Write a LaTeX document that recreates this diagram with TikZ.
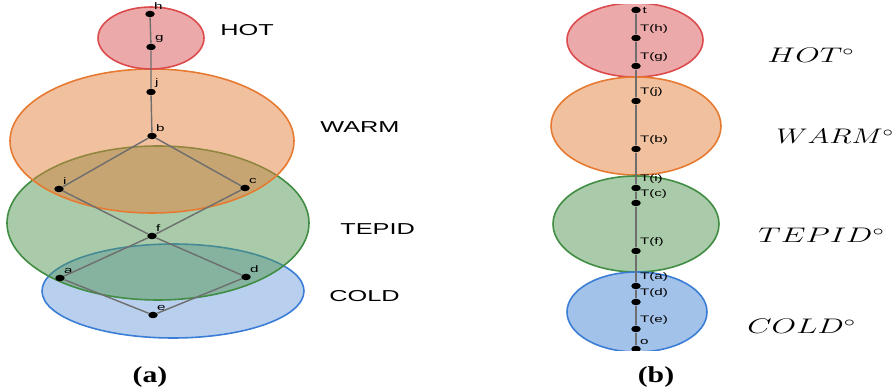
\documentclass[tikz,border=0pt]{standalone}
\usepackage{fontspec}
\setmainfont{Liberation Serif}
\newfontfamily\widesans[FakeStretch=1.6]{Liberation Sans}
\newfontfamily\wideserif[FakeStretch=1.3]{Liberation Serif}
\usepackage{graphicx}
\usepackage{tikz}
\usetikzlibrary{shapes.geometric}
\definecolor{hotFill}{HTML}{D75355}
\definecolor{hotLine}{HTML}{DC4A4C}
\definecolor{warmFill}{HTML}{E3813D}
\definecolor{warmLine}{HTML}{E67A30}
\definecolor{tepidFill}{HTML}{539753}
\definecolor{tepidLine}{HTML}{3F8C42}
\definecolor{coldFill}{HTML}{71A1DD}
\definecolor{coldLine}{HTML}{3A7DD6}
\definecolor{edgeGray}{HTML}{6E6E6E}

\begin{document}
\begin{tikzpicture}[
  x=0.02cm, y=-0.02cm,
  zone/.style={line width=0.9pt, fill opacity=0.5},
  dot/.style={ellipse, fill=black, inner sep=0pt, minimum width=0.19cm, minimum height=0.13cm},
  tag/.style={font=\widesans\fontsize{5.4}{6}\selectfont, inner sep=0pt, label distance=0.6pt},
  vtx/.style={dot, label={[tag]above right:#1}},
  edge/.style={draw=edgeGray, line width=0.8pt},
  classname/.style={font=\widesans\fontsize{9}{10}\selectfont, anchor=base west, inner sep=0pt},
  mathname/.style={font=\fontsize{11.5}{12}\selectfont, anchor=base west, inner sep=0pt},
  panel/.style={font=\wideserif\bfseries\fontsize{13}{15}\selectfont, anchor=base, inner sep=0pt}
]
  \useasboundingbox (0,0) rectangle (896,391);

  % (a) the four classes
  \draw[zone, fill=coldFill, draw=coldLine] (173,291) ellipse [x radius=131, y radius=47];
  \draw[zone, fill=tepidFill, draw=tepidLine] (158,223) ellipse [x radius=151, y radius=77];
  \draw[zone, fill=warmFill, draw=warmLine] (152,141) ellipse [x radius=142, y radius=72];
  \draw[zone, fill=hotFill, draw=hotLine] (151,38) ellipse [x radius=53, y radius=31];

  \node[vtx=h] (h) at (150,14) {};
  \node[vtx=g] (g) at (151,47) {};
  \node[vtx=j] (j) at (151,92) {};
  \node[vtx=b] (b) at (152,136) {};
  \node[vtx=i] (i) at (59,189) {};
  \node[vtx=c] (c) at (245,188) {};
  \node[vtx=f] (f) at (152,236) {};
  \node[vtx=a] (a) at (60,278) {};
  \node[vtx=d] (d) at (246,277) {};
  \node[vtx=e] (e) at (153,315) {};

  \draw[edge] (h) -- (g) -- (j) -- (b);
  \draw[edge] (b) -- (i);
  \draw[edge] (b) -- (c);
  \draw[edge] (i) -- (f) -- (d);
  \draw[edge] (c) -- (f) -- (a);
  \draw[edge] (a) -- (e) -- (d);

  \node[classname] (hotA) at (220,36) {HOT};
  \node[classname] (warmA) at (320,133) {WARM};
  \node[classname] (tepidA) at (340,235) {TEPID};
  \node[classname] (coldA) at (329,302) {COLD};

  % (b) the chain
  \begin{scope}
    \clip (540,5) rectangle (740,351);
    \draw[zone, fill=hotFill, draw=hotLine] (635,40) ellipse [x radius=68, y radius=37];
    \draw[zone, fill=warmFill, draw=warmLine] (636,126) ellipse [x radius=85, y radius=49];
    \draw[zone, fill=tepidFill, draw=tepidLine] (636,224) ellipse [x radius=83, y radius=48];
    \draw[zone, fill=coldFill, draw=coldLine, fill opacity=0.65] (637,312) ellipse [x radius=70, y radius=40];

    \node[dot, label={[tag]right:t}] (ttop) at (636,10) {};
    \node[vtx=T(h)] (th) at (636,38) {};
    \node[vtx=T(g)] (tg) at (636,66) {};
    \node[vtx=T(j)] (tj) at (636,101) {};
    \node[vtx=T(b)] (tb) at (636,149) {};
    \node[vtx=T(i)] (ti) at (636,188) {};
    \node[vtx=T(c)] (tc) at (636,203) {};
    \node[vtx=T(f)] (tf) at (636,251) {};
    \node[vtx=T(a)] (ta) at (636,286) {};
    \node[vtx=T(d)] (td) at (636,302) {};
    \node[vtx=T(e)] (te) at (636,329) {};
    \node[vtx=o] (tbot) at (636,349) {};

    \draw[edge] (ttop) -- (th) -- (tg) -- (tj) -- (tb) -- (ti) -- (tc)
      -- (tf) -- (ta) -- (td) -- (te) -- (tbot);
  \end{scope}

  \node[mathname] (hotB) at (767,63) {\scalebox{1.5}[1]{$HOT^\circ$}};
  \node[mathname] (warmB) at (776,144) {\scalebox{1.4}[1]{$WARM^\circ$}};
  \node[mathname] (tepidB) at (758,243) {\scalebox{1.5}[1]{$TEPID^\circ$}};
  \node[mathname] (coldB) at (747,334) {\scalebox{1.5}[1]{$COLD^\circ$}};

  \node[panel] (capA) at (150,383) {(a)};
  \node[panel] (capB) at (656,383) {(b)};
\end{tikzpicture}
\end{document}
